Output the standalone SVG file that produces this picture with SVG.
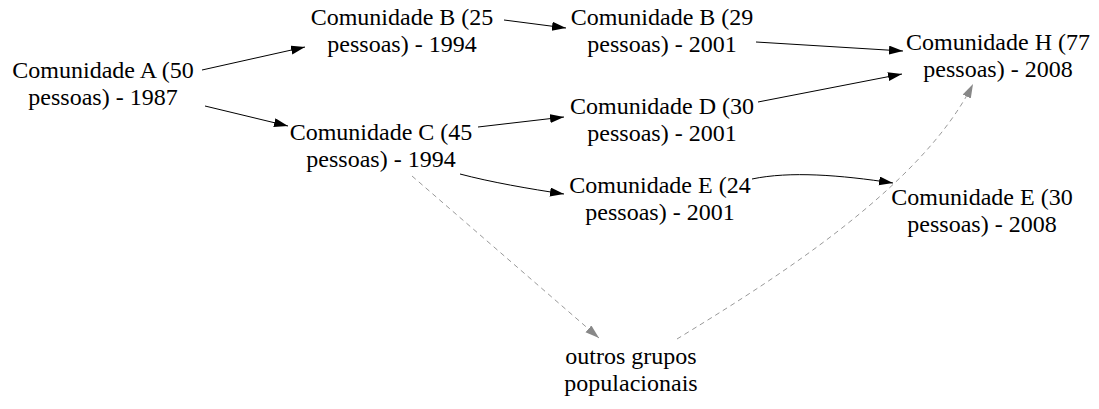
<svg xmlns="http://www.w3.org/2000/svg" width="1099" height="409" viewBox="0 0 1099 409">
<defs>
<marker id="ah" markerWidth="15" markerHeight="10" refX="14" refY="4.5" orient="auto" markerUnits="userSpaceOnUse">
<path d="M0,0 L14,4.5 L0,9 z" fill="#000"/>
</marker>
<marker id="ahg" markerWidth="15" markerHeight="10" refX="14" refY="4.5" orient="auto" markerUnits="userSpaceOnUse">
<path d="M0,0 L14,4.5 L0,9 z" fill="#888"/>
</marker>
</defs>
<style>
text{font-family:"Liberation Serif","Times New Roman",serif;font-size:24px;fill:#000;text-anchor:middle}
.e{fill:none;stroke:#000;stroke-width:1}
.d{fill:none;stroke:#999;stroke-width:1;stroke-dasharray:5,4}
</style>
<rect width="1099" height="409" fill="#fff"/>
<g id="connectors">
<path class="e" d="M202,70 L305,47" marker-end="url(#ah)"/>
<path class="e" d="M205,106 L288,126" marker-end="url(#ah)"/>
<path class="e" d="M504,20 L566,28" marker-end="url(#ah)"/>
<path class="e" d="M756,42 L903,51" marker-end="url(#ah)"/>
<path class="e" d="M758,102 L902,74" marker-end="url(#ah)"/>
<path class="e" d="M478,127 L564,117" marker-end="url(#ah)"/>
<path class="e" d="M460,174 C490,182 530,189 564,194" marker-end="url(#ah)"/>
<path class="e" d="M752,179 C790,171 840,175 893,183" marker-end="url(#ah)"/>
<path class="d" d="M412,176 L599,338" marker-end="url(#ahg)"/>
<path class="d" d="M677,339 C765,285 920,190 973,84" marker-end="url(#ahg)"/>
</g>
<g id="nodeA"><text x="103" y="78">Comunidade A (50</text><text x="103" y="105">pessoas) - 1987</text></g>
<g id="nodeB25"><text x="402" y="25">Comunidade B (25</text><text x="402" y="52">pessoas) - 1994</text></g>
<g id="nodeB29"><text x="662" y="25">Comunidade B (29</text><text x="662" y="52">pessoas) - 2001</text></g>
<g id="nodeC"><text x="381" y="140">Comunidade C (45</text><text x="381" y="167">pessoas) - 1994</text></g>
<g id="nodeD"><text x="662" y="114">Comunidade D (30</text><text x="662" y="141">pessoas) - 2001</text></g>
<g id="nodeE24"><text x="660" y="193">Comunidade E (24</text><text x="660" y="220">pessoas) - 2001</text></g>
<g id="nodeH"><text x="998" y="50">Comunidade H (77</text><text x="998" y="77">pessoas) - 2008</text></g>
<g id="nodeE30"><text x="982" y="205">Comunidade E (30</text><text x="982" y="232">pessoas) - 2008</text></g>
<g id="nodeOutros"><text x="631" y="364">outros grupos</text><text x="631" y="391">populacionais</text></g>
</svg>
